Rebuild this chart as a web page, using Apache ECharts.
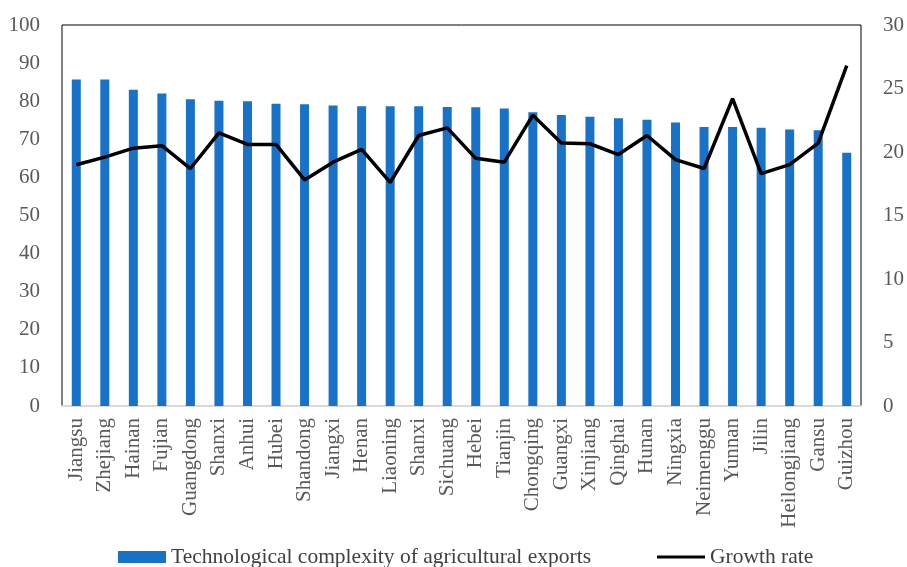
<!DOCTYPE html>
<html><head><meta charset="utf-8">
<script src="https://cdn.jsdelivr.net/npm/echarts@6/dist/echarts.min.js"></script>
<style>html,body{margin:0;padding:0;background:#fff}#c{width:907px;height:567px}</style>
</head><body><div id="c"></div>
<script>
var provinces = ["Jiangsu","Zhejiang","Hainan","Fujian","Guangdong","Shanxi","Anhui","Hubei","Shandong","Jiangxi","Henan","Liaoning","Shanxi","Sichuang","Hebei","Tianjin","Chongqing","Guangxi","Xinjiang","Qinghai","Hunan","Ningxia","Neimenggu","Yunnan","Jilin","Heilongjiang","Gansu","Guizhou"];
var complexity = [85.7,85.7,83.0,82.0,80.5,80.1,80.0,79.3,79.2,78.9,78.7,78.7,78.7,78.5,78.4,78.1,77.1,76.4,75.9,75.5,75.1,74.4,73.2,73.2,73.0,72.6,72.4,66.5];
var growth = [19.0,19.6,20.3,20.5,18.7,21.5,20.6,20.6,17.8,19.2,20.2,17.6,21.3,21.9,19.5,19.2,22.9,20.7,20.65,19.8,21.3,19.4,18.7,24.2,18.3,19.0,20.7,26.8];
var leftTicks = {min:0,max:100,interval:10};
var rightTicks = {min:0,max:30,interval:5};

var font = "Liberation Serif";
var chart = echarts.init(document.getElementById('c'), null, {renderer:'canvas'});
chart.setOption({
  animation:false,
  textStyle:{fontFamily:font},
  grid:{left:62,right:44,top:25,bottom:161,show:true,borderColor:'#000',borderWidth:1,containLabel:false},
  legend:{
    bottom:-6, left:113, itemGap:66, itemWidth:48, itemHeight:12,
    textStyle:{fontFamily:font,fontSize:21.5,color:'#404040'},
    data:[
      {name:'Technological complexity of agricultural exports',icon:'rect'},
      {name:'Growth rate',icon:'path://M0,0 L48,0 L48,3 L0,3 Z',itemStyle:{color:'#000'}}
    ]
  },
  xAxis:{
    type:'category', data:provinces,
    axisLine:{lineStyle:{color:'#d9d9d9',width:2}},
    axisTick:{show:false},
    axisLabel:{rotate:90,fontFamily:font,fontSize:21,color:'#595959',margin:12,interval:0}
  },
  yAxis:[
    {type:'value',min:leftTicks.min,max:leftTicks.max,interval:leftTicks.interval,
     splitLine:{show:false},axisLine:{show:false},axisTick:{show:false},
     axisLabel:{fontFamily:font,fontSize:21,color:'#595959',margin:22}},
    {type:'value',min:rightTicks.min,max:rightTicks.max,interval:rightTicks.interval,
     splitLine:{show:false},axisLine:{show:false},axisTick:{show:false},
     axisLabel:{fontFamily:font,fontSize:21,color:'#595959',margin:22}}
  ],
  series:[
    {name:'Technological complexity of agricultural exports',type:'bar',data:complexity,
     barWidth:9,itemStyle:{color:'#1872C8'},yAxisIndex:0},
    {name:'Growth rate',type:'line',data:growth,yAxisIndex:1,symbol:'none',
     lineStyle:{color:'#000',width:3.5},itemStyle:{color:'#000'}}
  ]
});
</script></body></html>
